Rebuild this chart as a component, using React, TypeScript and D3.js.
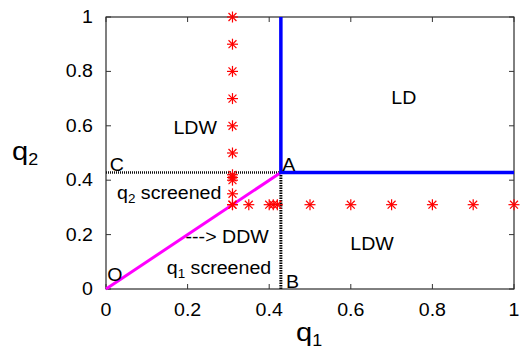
import * as d3 from 'd3'

const W = 521
const H = 352
const MARGIN = { top: 17, right: 7, bottom: 63, left: 106 }
const FONT = '"Liberation Sans", Arial, Helvetica, sans-serif'
const STRETCH = 1.12

// phase diagram values
const X_TICKS = [0, 0.2, 0.4, 0.6, 0.8, 1]
const Y_TICKS = [0, 0.2, 0.4, 0.6, 0.8, 1]
const QC = 0.4286 // point A
const COL_Q1 = 0.31
const COL_Q2 = [1, 0.9, 0.8, 0.7, 0.6, 0.5, 0.42, 0.41, 0.4, 0.35, 0.31]
const ROW_Q2 = 0.31
const ROW_Q1 = [0.31, 0.35, 0.4, 0.41, 0.42, 0.5, 0.6, 0.7, 0.8, 0.9, 1]

// region labels, placed in data coordinates
const LABELS = [
  { x: 0.73, y: 0.68, main: 'LD', anchor: 'middle' },
  { x: 0.272, y: 0.57, main: 'LDW', anchor: 'end' },
  { x: 0.652, y: 0.145, main: 'LDW', anchor: 'middle' },
  { x: 0.297, y: 0.17, main: '---> DDW', anchor: 'middle' },
  { x: 0.003, y: 0.03, main: 'O', anchor: 'start' },
  { x: 0.009, y: 0.435, main: 'C', anchor: 'start' },
  { x: 0.432, y: 0.435, main: 'A', anchor: 'start' },
  { x: 0.441, y: 0.004, main: 'B', anchor: 'start' },
]

function Txt({ x, y, size = 17.5, anchor = 'start', children }: any) {
  return (
    <text
      transform={`translate(${x},${y}) scale(${STRETCH},1)`}
      fontFamily={FONT}
      fontSize={size}
      textAnchor={anchor}
      fill="#000"
    >
      {children}
    </text>
  )
}

function Star({ cx, cy }: { cx: number; cy: number }) {
  const r = 5.5
  const d = r * 0.72
  return (
    <g stroke="#ff0000" strokeWidth={1.2}>
      <line x1={cx - r} x2={cx + r} y1={cy} y2={cy} />
      <line x1={cx} x2={cx} y1={cy - r} y2={cy + r} />
      <line x1={cx - d} x2={cx + d} y1={cy - d} y2={cy + d} />
      <line x1={cx - d} x2={cx + d} y1={cy + d} y2={cy - d} />
    </g>
  )
}

export default function App() {
  const x = d3.scaleLinear().domain([0, 1]).range([MARGIN.left, W - MARGIN.right])
  const y = d3.scaleLinear().domain([0, 1]).range([H - MARGIN.bottom, MARGIN.top])
  const [x0, x1] = x.range()
  const [y0, y1] = y.range()

  const stars = [
    ...COL_Q2.map(q2 => ({ q1: COL_Q1, q2 })),
    ...ROW_Q1.map(q1 => ({ q1, q2: ROW_Q2 })),
  ]

  const line = d3.line<[number, number]>().x(d => x(d[0])).y(d => y(d[1]))

  return (
    <svg width={W} height={H} style={{ position: 'absolute', left: 0, top: 0, background: '#fff' }}>
      {/* frame */}
      <rect x={x0} y={y1} width={x1 - x0} height={y0 - y1} fill="none" stroke="#000" strokeWidth={1} />

      {/* ticks, mirrored inward */}
      {X_TICKS.map(t => (
        <g key={'x' + t} stroke="#333" strokeWidth={1}>
          <line x1={x(t)} x2={x(t)} y1={y0} y2={y0 - 5} />
          <line x1={x(t)} x2={x(t)} y1={y1} y2={y1 + 5} />
        </g>
      ))}
      {Y_TICKS.map(t => (
        <g key={'y' + t} stroke="#333" strokeWidth={1}>
          <line x1={x0} x2={x0 + 5} y1={y(t)} y2={y(t)} />
          <line x1={x1} x2={x1 - 5} y1={y(t)} y2={y(t)} />
        </g>
      ))}
      {X_TICKS.map(t => (
        <Txt key={'xl' + t} x={x(t)} y={y0 + 27} anchor="middle">{d3.format('~g')(t)}</Txt>
      ))}
      {Y_TICKS.map(t => (
        <Txt key={'yl' + t} x={x0 - 13} y={y(t) + 6} anchor="end">{d3.format('~g')(t)}</Txt>
      ))}

      {/* axis titles */}
      <Txt x={296} y={341} size={26}>
        q<tspan fontSize={16} dy={5}>1</tspan>
      </Txt>
      <Txt x={12} y={160} size={26}>
        q<tspan fontSize={16} dy={5}>2</tspan>
      </Txt>

      {/* dotted boundaries C-A and A-B */}
      <path d={line([[0, QC], [QC, QC]]) || ''} fill="none" stroke="#111" strokeWidth={2.5} strokeDasharray="1,1" />
      <path d={line([[QC, QC], [QC, 0]]) || ''} fill="none" stroke="#000" strokeWidth={3} strokeDasharray="1.5,1" />

      {/* O-A */}
      <path d={line([[0, 0], [QC, QC]]) || ''} fill="none" stroke="#ff00ff" strokeWidth={3} />

      {/* LD boundaries */}
      <path d={line([[QC, 1], [QC, QC], [1, QC]]) || ''} fill="none" stroke="#0000ff" strokeWidth={3.5} />

      {stars.map((s, i) => (
        <Star key={i} cx={x(s.q1)} cy={y(s.q2)} />
      ))}

      {LABELS.map((l, i) => (
        <Txt key={i} x={x(l.x)} y={y(l.y)} anchor={l.anchor}>{l.main}</Txt>
      ))}
      <Txt x={x(0.027)} y={y(0.331)}>
        q<tspan fontSize={12} dy={4}>2</tspan><tspan dy={-4}> screened</tspan>
      </Txt>
      <Txt x={x(0.149)} y={y(0.055)}>
        q<tspan fontSize={12} dy={4}>1</tspan><tspan dy={-4}> screened</tspan>
      </Txt>
    </svg>
  )
}
